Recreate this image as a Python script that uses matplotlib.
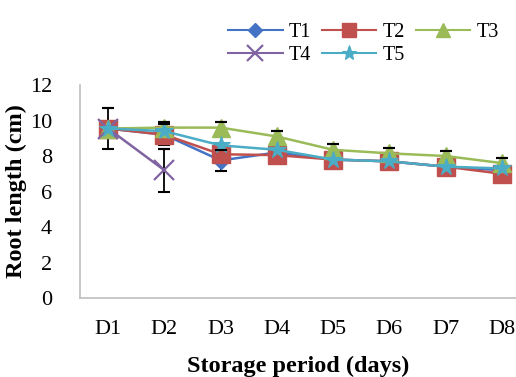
import matplotlib
matplotlib.use("Agg")
import matplotlib.pyplot as plt
from matplotlib.lines import Line2D
import numpy as np

days = ["D1", "D2", "D3", "D4", "D5", "D6", "D7", "D8"]
T1 = [9.55, 9.2, 7.75, 8.2, 7.8, 7.7, 7.4, 7.2]
T2 = [9.55, 9.2, 8.1, 8.05, 7.8, 7.7, 7.4, 7.0]
T3 = [9.55, 9.6, 9.6, 9.1, 8.35, 8.15, 8.0, 7.6]
T4 = [9.55, 7.2]
T5 = [9.55, 9.4, 8.6, 8.35, 7.8, 7.7, 7.4, 7.3]
T1_err = [1.15, 0.6, 0.6, 0.0, 0.0, 0.0, 0.0, 0.0]
T3_err = [0.0, 0.3, 0.3, 0.3, 0.3, 0.3, 0.3, 0.3]
T4_err = [0.0, 1.2]

plt.rcParams['font.family'] = ['Liberation Serif', 'DejaVu Serif']

fig = plt.figure(figsize=(5.16, 3.77), dpi=100)
ax = fig.add_axes([0.155, 0.2095, 0.845, 0.565])

x = np.arange(len(days))
colors = {"T1": "#4472C4", "T2": "#C0504D", "T3": "#9BBB59", "T4": "#8064A2", "T5": "#4BACC6"}
styles = {
    "T1": dict(marker="D", markersize=9),
    "T2": dict(marker="s", markersize=13),
    "T3": dict(marker="^", markersize=13),
    "T4": dict(marker="x", markersize=14, mew=1.6),
    "T5": dict(marker="*", markersize=13, mew=0.8),
}
series = {"T1": T1, "T2": T2, "T3": T3, "T4": T4, "T5": T5}
errs = {"T1": T1_err, "T3": T3_err, "T4": T4_err}

for i, name in enumerate(["T1", "T2", "T3", "T4", "T5"]):
    vals = series[name]
    xs = x[:len(vals)]
    ax.plot(xs, vals, color=colors[name], lw=1.8, zorder=3 + i * 0.1, **styles[name])

for name, e in errs.items():
    vals = np.array(series[name])
    e = np.array(e)
    xs = x[:len(vals)]
    m = e > 0
    ax.errorbar(xs[m], vals[m], yerr=e[m], fmt="none", ecolor="black", elinewidth=1.3,
                capsize=4.5, capthick=1.5, zorder=2.5)
    # upper caps stay visible above the markers
    ax.plot(xs[m], vals[m] + e[m], ls="none", marker="_", color="black",
            markersize=9, mew=1.5, zorder=6)

ax.set_ylim(0, 12)
ax.set_xlim(-0.5, 7.25)
ax.set_yticks(range(0, 13, 2))
ax.set_xticks(x)
ax.set_xticklabels(days)
ax.tick_params(axis="y", labelsize=16, length=0, pad=20)
ax.tick_params(axis="x", labelsize=16, length=0, pad=16)
for s in ["top", "right"]:
    ax.spines[s].set_visible(False)
for s in ["left", "bottom"]:
    ax.spines[s].set_color("#BFBFBF")
    ax.spines[s].set_linewidth(1.2)

ax.set_ylabel("Root length (cm)", fontsize=17.5, fontweight="bold", labelpad=2)
ax.set_xlabel("Storage period (days)", fontsize=17.5, fontweight="bold", labelpad=12)

leg_ms = {"T1": 7, "T2": 10, "T3": 10, "T4": 11, "T5": 11}
def h(name):
    st = dict(styles[name])
    st["markersize"] = leg_ms[name]
    return Line2D([], [], color=colors[name], lw=1.5, **st)

order = ["T1", "T4", "T2", "T5", "T3"]
fig.legend([h(n) for n in order], order, ncol=3, loc="upper right",
           bbox_to_anchor=(0.982, 0.96), frameon=False, fontsize=14.5,
           handlelength=2.7, columnspacing=0.55, handletextpad=0.3,
           labelspacing=0.2, borderaxespad=0.0)

fig.savefig("out.png", dpi=100)
